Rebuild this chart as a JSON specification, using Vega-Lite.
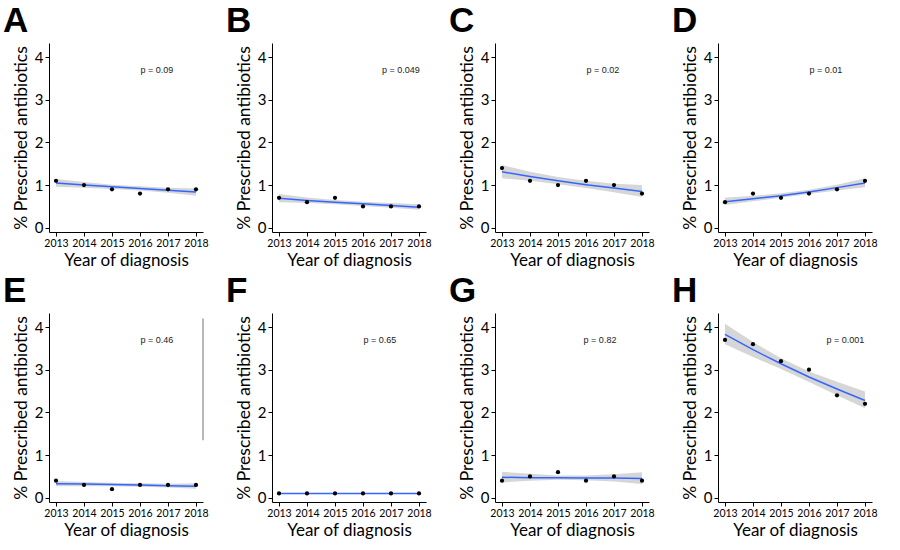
{
"$schema": "https://vega.github.io/schema/vega-lite/v6.json",
"padding": {"left": 3, "top": 4, "right": 5, "bottom": 5},
"background": "white",
"columns": 4,
"bounds": "flush",
"spacing": {"row": 81, "column": 69},
"datasets": {
"obs": [
{"panel":"A","p":"p = 0.09","year":2013,"pct":1.1,"fit":1.05,"lo":0.96,"hi":1.14},
{"panel":"A","p":"p = 0.09","year":2014,"pct":1.0,"fit":1.00,"lo":0.94,"hi":1.07},
{"panel":"A","p":"p = 0.09","year":2015,"pct":0.9,"fit":0.96,"lo":0.91,"hi":1.01},
{"panel":"A","p":"p = 0.09","year":2016,"pct":0.8,"fit":0.92,"lo":0.87,"hi":0.97},
{"panel":"A","p":"p = 0.09","year":2017,"pct":0.9,"fit":0.88,"lo":0.82,"hi":0.94},
{"panel":"A","p":"p = 0.09","year":2018,"pct":0.9,"fit":0.84,"lo":0.75,"hi":0.92},
{"panel":"B","p":"p = 0.049","year":2013,"pct":0.7,"fit":0.69,"lo":0.60,"hi":0.79},
{"panel":"B","p":"p = 0.049","year":2014,"pct":0.6,"fit":0.64,"lo":0.58,"hi":0.71},
{"panel":"B","p":"p = 0.049","year":2015,"pct":0.7,"fit":0.60,"lo":0.55,"hi":0.65},
{"panel":"B","p":"p = 0.049","year":2016,"pct":0.5,"fit":0.56,"lo":0.51,"hi":0.61},
{"panel":"B","p":"p = 0.049","year":2017,"pct":0.5,"fit":0.52,"lo":0.47,"hi":0.58},
{"panel":"B","p":"p = 0.049","year":2018,"pct":0.5,"fit":0.48,"lo":0.42,"hi":0.55},
{"panel":"C","p":"p = 0.02","year":2013,"pct":1.4,"fit":1.31,"lo":1.16,"hi":1.47},
{"panel":"C","p":"p = 0.02","year":2014,"pct":1.1,"fit":1.20,"lo":1.10,"hi":1.31},
{"panel":"C","p":"p = 0.02","year":2015,"pct":1.0,"fit":1.10,"lo":1.02,"hi":1.19},
{"panel":"C","p":"p = 0.02","year":2016,"pct":1.1,"fit":1.01,"lo":0.93,"hi":1.10},
{"panel":"C","p":"p = 0.02","year":2017,"pct":1.0,"fit":0.93,"lo":0.83,"hi":1.03},
{"panel":"C","p":"p = 0.02","year":2018,"pct":0.8,"fit":0.85,"lo":0.72,"hi":1.00},
{"panel":"D","p":"p = 0.01","year":2013,"pct":0.6,"fit":0.61,"lo":0.53,"hi":0.70},
{"panel":"D","p":"p = 0.01","year":2014,"pct":0.8,"fit":0.68,"lo":0.62,"hi":0.75},
{"panel":"D","p":"p = 0.01","year":2015,"pct":0.7,"fit":0.75,"lo":0.70,"hi":0.81},
{"panel":"D","p":"p = 0.01","year":2016,"pct":0.8,"fit":0.84,"lo":0.79,"hi":0.89},
{"panel":"D","p":"p = 0.01","year":2017,"pct":0.9,"fit":0.94,"lo":0.87,"hi":1.01},
{"panel":"D","p":"p = 0.01","year":2018,"pct":1.1,"fit":1.05,"lo":0.95,"hi":1.16},
{"panel":"E","p":"p = 0.46","year":2013,"pct":0.4,"fit":0.33,"lo":0.27,"hi":0.39},
{"panel":"E","p":"p = 0.46","year":2014,"pct":0.3,"fit":0.32,"lo":0.27,"hi":0.37},
{"panel":"E","p":"p = 0.46","year":2015,"pct":0.2,"fit":0.31,"lo":0.27,"hi":0.35},
{"panel":"E","p":"p = 0.46","year":2016,"pct":0.3,"fit":0.30,"lo":0.26,"hi":0.34},
{"panel":"E","p":"p = 0.46","year":2017,"pct":0.3,"fit":0.28,"lo":0.24,"hi":0.33},
{"panel":"E","p":"p = 0.46","year":2018,"pct":0.3,"fit":0.27,"lo":0.21,"hi":0.34},
{"panel":"F","p":"p = 0.65","year":2013,"pct":0.1,"fit":0.1,"lo":0.09,"hi":0.11},
{"panel":"F","p":"p = 0.65","year":2014,"pct":0.1,"fit":0.1,"lo":0.09,"hi":0.11},
{"panel":"F","p":"p = 0.65","year":2015,"pct":0.1,"fit":0.1,"lo":0.09,"hi":0.11},
{"panel":"F","p":"p = 0.65","year":2016,"pct":0.1,"fit":0.1,"lo":0.09,"hi":0.11},
{"panel":"F","p":"p = 0.65","year":2017,"pct":0.1,"fit":0.1,"lo":0.09,"hi":0.11},
{"panel":"F","p":"p = 0.65","year":2018,"pct":0.1,"fit":0.1,"lo":0.09,"hi":0.11},
{"panel":"G","p":"p = 0.82","year":2013,"pct":0.4,"fit":0.48,"lo":0.36,"hi":0.61},
{"panel":"G","p":"p = 0.82","year":2014,"pct":0.5,"fit":0.47,"lo":0.40,"hi":0.56},
{"panel":"G","p":"p = 0.82","year":2015,"pct":0.6,"fit":0.47,"lo":0.42,"hi":0.52},
{"panel":"G","p":"p = 0.82","year":2016,"pct":0.4,"fit":0.46,"lo":0.41,"hi":0.52},
{"panel":"G","p":"p = 0.82","year":2017,"pct":0.5,"fit":0.46,"lo":0.38,"hi":0.55},
{"panel":"G","p":"p = 0.82","year":2018,"pct":0.4,"fit":0.45,"lo":0.32,"hi":0.60},
{"panel":"H","p":"p = 0.001","year":2013,"pct":3.7,"fit":3.83,"lo":3.60,"hi":4.08},
{"panel":"H","p":"p = 0.001","year":2014,"pct":3.6,"fit":3.47,"lo":3.30,"hi":3.65},
{"panel":"H","p":"p = 0.001","year":2015,"pct":3.2,"fit":3.14,"lo":3.02,"hi":3.27},
{"panel":"H","p":"p = 0.001","year":2016,"pct":3.0,"fit":2.83,"lo":2.71,"hi":2.96},
{"panel":"H","p":"p = 0.001","year":2017,"pct":2.4,"fit":2.55,"lo":2.40,"hi":2.72},
{"panel":"H","p":"p = 0.001","year":2018,"pct":2.2,"fit":2.28,"lo":2.10,"hi":2.49}
]
},
"concat": [
{"title":"A","width":154,"height":189,"data":{"name":"obs"},"transform":[{"filter":"datum.panel === 'A'"}],
"encoding":{"x":{"field":"year","type":"quantitative","scale":{"domain":[2012.75,2018.25],"nice":false,"zero":false},"axis":{"values":[2013,2014,2015,2016,2017,2018],"format":"d","title":"Year of diagnosis"}}},
"layer":[
{"mark":{"type":"area","color":"#999999","opacity":0.4},"encoding":{"y":{"field":"lo","type":"quantitative","scale":{"domain":[-0.1,4.33],"nice":false,"zero":false},"axis":{"values":[0,1,2,3,4],"title":"% Prescribed antibiotics"}},"y2":{"field":"hi"}}},
{"mark":{"type":"line","color":"#3366FF","strokeWidth":1.5},"encoding":{"y":{"field":"fit","type":"quantitative"}}},
{"mark":{"type":"circle","color":"black","opacity":1,"size":18},"encoding":{"y":{"field":"pct","type":"quantitative"}}},
{"transform":[{"filter":"datum.year === 2013"}],"mark":{"type":"text","font":"Liberation Sans","fontSize":9,"color":"#222222"},"encoding":{"x":{"datum":2016.6},"y":{"datum":3.7},"text":{"field":"p"}}}
]},
{"title":"B","width":154,"height":189,"data":{"name":"obs"},"transform":[{"filter":"datum.panel === 'B'"}],
"encoding":{"x":{"field":"year","type":"quantitative","scale":{"domain":[2012.75,2018.25],"nice":false,"zero":false},"axis":{"values":[2013,2014,2015,2016,2017,2018],"format":"d","title":"Year of diagnosis"}}},
"layer":[
{"mark":{"type":"area","color":"#999999","opacity":0.4},"encoding":{"y":{"field":"lo","type":"quantitative","scale":{"domain":[-0.1,4.33],"nice":false,"zero":false},"axis":{"values":[0,1,2,3,4],"title":"% Prescribed antibiotics"}},"y2":{"field":"hi"}}},
{"mark":{"type":"line","color":"#3366FF","strokeWidth":1.5},"encoding":{"y":{"field":"fit","type":"quantitative"}}},
{"mark":{"type":"circle","color":"black","opacity":1,"size":18},"encoding":{"y":{"field":"pct","type":"quantitative"}}},
{"transform":[{"filter":"datum.year === 2013"}],"mark":{"type":"text","font":"Liberation Sans","fontSize":9,"color":"#222222"},"encoding":{"x":{"datum":2017.35},"y":{"datum":3.7},"text":{"field":"p"}}}
]},
{"title":"C","width":154,"height":189,"data":{"name":"obs"},"transform":[{"filter":"datum.panel === 'C'"}],
"encoding":{"x":{"field":"year","type":"quantitative","scale":{"domain":[2012.75,2018.25],"nice":false,"zero":false},"axis":{"values":[2013,2014,2015,2016,2017,2018],"format":"d","title":"Year of diagnosis"}}},
"layer":[
{"mark":{"type":"area","color":"#999999","opacity":0.4},"encoding":{"y":{"field":"lo","type":"quantitative","scale":{"domain":[-0.1,4.33],"nice":false,"zero":false},"axis":{"values":[0,1,2,3,4],"title":"% Prescribed antibiotics"}},"y2":{"field":"hi"}}},
{"mark":{"type":"line","color":"#3366FF","strokeWidth":1.5},"encoding":{"y":{"field":"fit","type":"quantitative"}}},
{"mark":{"type":"circle","color":"black","opacity":1,"size":18},"encoding":{"y":{"field":"pct","type":"quantitative"}}},
{"transform":[{"filter":"datum.year === 2013"}],"mark":{"type":"text","font":"Liberation Sans","fontSize":9,"color":"#222222"},"encoding":{"x":{"datum":2016.6},"y":{"datum":3.7},"text":{"field":"p"}}}
]},
{"title":"D","width":154,"height":189,"data":{"name":"obs"},"transform":[{"filter":"datum.panel === 'D'"}],
"encoding":{"x":{"field":"year","type":"quantitative","scale":{"domain":[2012.75,2018.25],"nice":false,"zero":false},"axis":{"values":[2013,2014,2015,2016,2017,2018],"format":"d","title":"Year of diagnosis"}}},
"layer":[
{"mark":{"type":"area","color":"#999999","opacity":0.4},"encoding":{"y":{"field":"lo","type":"quantitative","scale":{"domain":[-0.1,4.33],"nice":false,"zero":false},"axis":{"values":[0,1,2,3,4],"title":"% Prescribed antibiotics"}},"y2":{"field":"hi"}}},
{"mark":{"type":"line","color":"#3366FF","strokeWidth":1.5},"encoding":{"y":{"field":"fit","type":"quantitative"}}},
{"mark":{"type":"circle","color":"black","opacity":1,"size":18},"encoding":{"y":{"field":"pct","type":"quantitative"}}},
{"transform":[{"filter":"datum.year === 2013"}],"mark":{"type":"text","font":"Liberation Sans","fontSize":9,"color":"#222222"},"encoding":{"x":{"datum":2016.6},"y":{"datum":3.7},"text":{"field":"p"}}}
]},
{"title":"E","width":154,"height":189,"data":{"name":"obs"},"transform":[{"filter":"datum.panel === 'E'"}],
"encoding":{"x":{"field":"year","type":"quantitative","scale":{"domain":[2012.75,2018.25],"nice":false,"zero":false},"axis":{"values":[2013,2014,2015,2016,2017,2018],"format":"d","title":"Year of diagnosis"}}},
"layer":[
{"mark":{"type":"area","color":"#999999","opacity":0.4},"encoding":{"y":{"field":"lo","type":"quantitative","scale":{"domain":[-0.1,4.33],"nice":false,"zero":false},"axis":{"values":[0,1,2,3,4],"title":"% Prescribed antibiotics"}},"y2":{"field":"hi"}}},
{"mark":{"type":"line","color":"#3366FF","strokeWidth":1.5},"encoding":{"y":{"field":"fit","type":"quantitative"}}},
{"mark":{"type":"circle","color":"black","opacity":1,"size":18},"encoding":{"y":{"field":"pct","type":"quantitative"}}},
{"transform":[{"filter":"datum.year === 2013"}],"mark":{"type":"text","font":"Liberation Sans","fontSize":9,"color":"#222222"},"encoding":{"x":{"datum":2016.6},"y":{"datum":3.7},"text":{"field":"p"}}},
{"transform":[{"filter":"datum.year === 2013"}],"mark":{"type":"rule","color":"#888888","strokeWidth":1.2},"encoding":{"x":{"datum":2018.25},"y":{"datum":4.2},"y2":{"datum":1.35}}}
]},
{"title":"F","width":154,"height":189,"data":{"name":"obs"},"transform":[{"filter":"datum.panel === 'F'"}],
"encoding":{"x":{"field":"year","type":"quantitative","scale":{"domain":[2012.75,2018.25],"nice":false,"zero":false},"axis":{"values":[2013,2014,2015,2016,2017,2018],"format":"d","title":"Year of diagnosis"}}},
"layer":[
{"mark":{"type":"area","color":"#999999","opacity":0.4},"encoding":{"y":{"field":"lo","type":"quantitative","scale":{"domain":[-0.1,4.33],"nice":false,"zero":false},"axis":{"values":[0,1,2,3,4],"title":"% Prescribed antibiotics"}},"y2":{"field":"hi"}}},
{"mark":{"type":"line","color":"#3366FF","strokeWidth":1.5},"encoding":{"y":{"field":"fit","type":"quantitative"}}},
{"mark":{"type":"circle","color":"black","opacity":1,"size":18},"encoding":{"y":{"field":"pct","type":"quantitative"}}},
{"transform":[{"filter":"datum.year === 2013"}],"mark":{"type":"text","font":"Liberation Sans","fontSize":9,"color":"#222222"},"encoding":{"x":{"datum":2016.6},"y":{"datum":3.7},"text":{"field":"p"}}}
]},
{"title":"G","width":154,"height":189,"data":{"name":"obs"},"transform":[{"filter":"datum.panel === 'G'"}],
"encoding":{"x":{"field":"year","type":"quantitative","scale":{"domain":[2012.75,2018.25],"nice":false,"zero":false},"axis":{"values":[2013,2014,2015,2016,2017,2018],"format":"d","title":"Year of diagnosis"}}},
"layer":[
{"mark":{"type":"area","color":"#999999","opacity":0.4},"encoding":{"y":{"field":"lo","type":"quantitative","scale":{"domain":[-0.1,4.33],"nice":false,"zero":false},"axis":{"values":[0,1,2,3,4],"title":"% Prescribed antibiotics"}},"y2":{"field":"hi"}}},
{"mark":{"type":"line","color":"#3366FF","strokeWidth":1.5},"encoding":{"y":{"field":"fit","type":"quantitative"}}},
{"mark":{"type":"circle","color":"black","opacity":1,"size":18},"encoding":{"y":{"field":"pct","type":"quantitative"}}},
{"transform":[{"filter":"datum.year === 2013"}],"mark":{"type":"text","font":"Liberation Sans","fontSize":9,"color":"#222222"},"encoding":{"x":{"datum":2016.5},"y":{"datum":3.7},"text":{"field":"p"}}}
]},
{"title":"H","width":154,"height":189,"data":{"name":"obs"},"transform":[{"filter":"datum.panel === 'H'"}],
"encoding":{"x":{"field":"year","type":"quantitative","scale":{"domain":[2012.75,2018.25],"nice":false,"zero":false},"axis":{"values":[2013,2014,2015,2016,2017,2018],"format":"d","title":"Year of diagnosis"}}},
"layer":[
{"mark":{"type":"area","color":"#999999","opacity":0.4},"encoding":{"y":{"field":"lo","type":"quantitative","scale":{"domain":[-0.1,4.33],"nice":false,"zero":false},"axis":{"values":[0,1,2,3,4],"title":"% Prescribed antibiotics"}},"y2":{"field":"hi"}}},
{"mark":{"type":"line","color":"#3366FF","strokeWidth":1.5},"encoding":{"y":{"field":"fit","type":"quantitative"}}},
{"mark":{"type":"circle","color":"black","opacity":1,"size":18},"encoding":{"y":{"field":"pct","type":"quantitative"}}},
{"transform":[{"filter":"datum.year === 2013"}],"mark":{"type":"text","font":"Liberation Sans","fontSize":9,"color":"#222222"},"encoding":{"x":{"datum":2017.3},"y":{"datum":3.7},"text":{"field":"p"}}}
]}
],
"config": {
"view": {"stroke": null},
"axis": {"domainColor":"black","tickColor":"black","labelColor":"black","titleColor":"black","grid":false,"titleFont":"Lato","labelFont":"Lato","titleFontWeight":"normal","titleFontSize":17,"tickSize":4,"domainWidth":1,"tickWidth":1,"labelPadding":2,"titlePadding":4},
"axisX": {"labelFontSize":10.5},
"axisY": {"labelFontSize":15,"titleFontSize":17.5,"titlePadding":4},
"title": {"anchor":"start","frame":"group","dx":-46,"fontSize":35,"font":"Liberation Sans","fontWeight":"bold","offset":0,"color":"black"}
}
}
